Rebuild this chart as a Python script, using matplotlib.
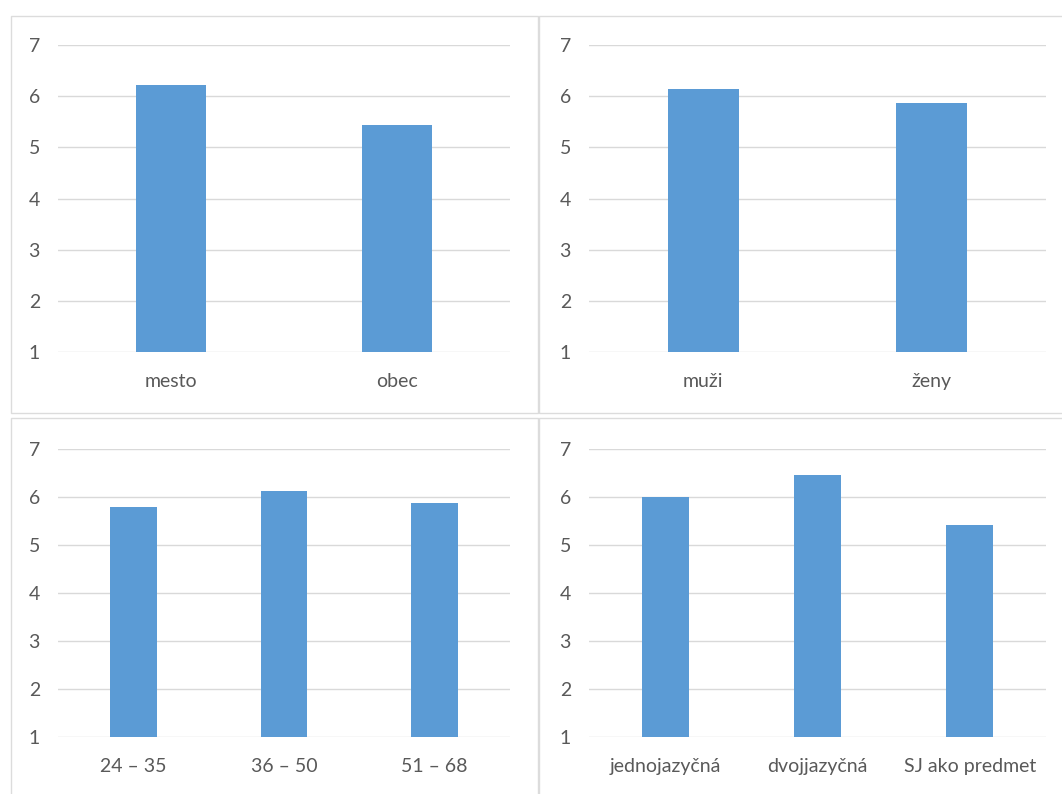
import matplotlib
matplotlib.use("Agg")
import matplotlib.pyplot as plt
from matplotlib.patches import Rectangle

# Data for the four panels
residence_labels = ["mesto", "obec"]
residence_values = [6.21, 5.43]

gender_labels = ["muži", "ženy"]
gender_values = [6.14, 5.86]

age_labels = ["24 – 35", "36 – 50", "51 – 68"]
age_values = [5.79, 6.12, 5.87]

school_labels = ["jednojazyčná", "dvojjazyčná", "SJ ako predmet"]
school_values = [6.00, 6.46, 5.42]

y_ticks = [1, 2, 3, 4, 5, 6, 7]

BAR_COLOR = "#5b9bd5"
GRID_COLOR = "#d9d9d9"
TEXT_COLOR = "#595959"
BORDER_COLOR = "#dcdcdc"

plt.rcParams["font.family"] = ["Lato", "DejaVu Sans"]

W, H = 1062, 794
fig = plt.figure(figsize=(W / 100, H / 100), dpi=100)


def px_axes(x0, x1, ytop, ybot):
    return fig.add_axes([x0 / W, 1 - ybot / H, (x1 - x0) / W, (ybot - ytop) / H])


def draw_panel(ax, labels, values):
    xs = range(len(labels))
    ax.bar(xs, [v - 1 for v in values], bottom=1, width=0.31,
           color=BAR_COLOR, zorder=3)
    ax.set_xlim(-0.5, len(labels) - 0.5)
    ax.set_ylim(1, 7)
    ax.set_yticks(y_ticks)
    ax.set_xticks(list(xs))
    ax.set_xticklabels(labels)
    ax.yaxis.grid(True, color=GRID_COLOR, linewidth=1.0, zorder=0)
    ax.set_axisbelow(True)
    for s in ax.spines.values():
        s.set_visible(False)
    ax.tick_params(axis="y", length=0, pad=13, labelsize=14,
                   labelcolor=TEXT_COLOR)
    ax.tick_params(axis="x", length=0, pad=15, labelsize=14,
                   labelcolor=TEXT_COLOR)


ax1 = px_axes(58, 510, 45, 352)
draw_panel(ax1, residence_labels, residence_values)

ax2 = px_axes(589, 1046, 45, 352)
draw_panel(ax2, gender_labels, gender_values)

ax3 = px_axes(58, 510, 449, 737)
draw_panel(ax3, age_labels, age_values)

ax4 = px_axes(589, 1046, 449, 737)
draw_panel(ax4, school_labels, school_values)

# Chart frames around each panel
frames = [(10.5, 16, 538, 413), (539, 16, 1075, 413),
          (10.5, 418, 538, 810), (539, 418, 1075, 810)]
for x0, y0, x1, y1 in frames:
    fig.add_artist(Rectangle((x0 / W, 1 - y1 / H), (x1 - x0) / W, (y1 - y0) / H,
                             transform=fig.transFigure, fill=False,
                             edgecolor=BORDER_COLOR, linewidth=1.0))

fig.savefig("out.png", dpi=100)
